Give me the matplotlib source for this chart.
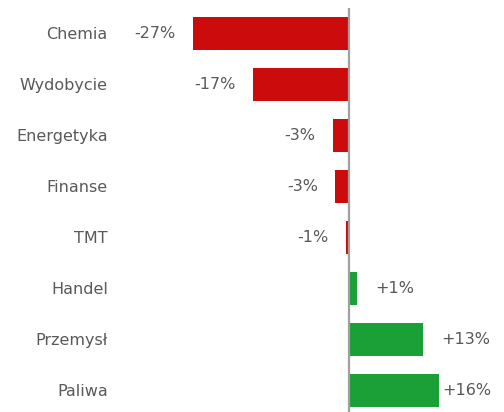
import matplotlib.pyplot as plt

# Data
sectors = ['Chemia', 'Wydobycie', 'Energetyka', 'Finanse', 'TMT', 'Handel', 'Przemysł', 'Paliwa']
changes = [-27.0, -16.6, -2.8, -2.4, -0.5, 1.4, 12.8, 15.6]
labels = ['-27%', '-17%', '-3%', '-3%', '-1%', '+1%', '+13%', '+16%']

red, green, grey_text = '#CC0C0C', '#1BA037', '#595959'
fs = 11.5

fig = plt.figure(figsize=(5.04, 4.12), dpi=100)
ax = fig.add_axes([0.24, 0.0, 0.75, 1 - 8 / 412])

ypos = list(range(len(sectors)))
colors = [red if v < 0 else green for v in changes]
ax.barh(ypos, changes, height=0.65, color=colors)
ax.axvline(0, color='#A0A0A0', linewidth=1.6)

ax.set_xlim(-39.4, 25.9)
ax.set_ylim(7.43, -0.5)

ax.set_yticks(ypos)
ax.set_yticklabels(sectors, fontsize=fs, color=grey_text)
ax.tick_params(axis='y', length=0, pad=9.5)
ax.set_xticks([])
for s in ax.spines.values():
    s.set_visible(False)

# value labels
for y, v, lab in zip(ypos, changes, labels):
    if v < 0:
        ax.annotate(lab, (v, y), xytext=(-12.5, 0), textcoords='offset points',
                    ha='right', va='center', fontsize=fs, color=grey_text)
    else:
        off = 2 if v > 15 else 13
        ax.annotate(lab, (v, y), xytext=(off, 0), textcoords='offset points',
                    ha='left', va='center', fontsize=fs, color=grey_text)

fig.savefig('out.png', dpi=100)
